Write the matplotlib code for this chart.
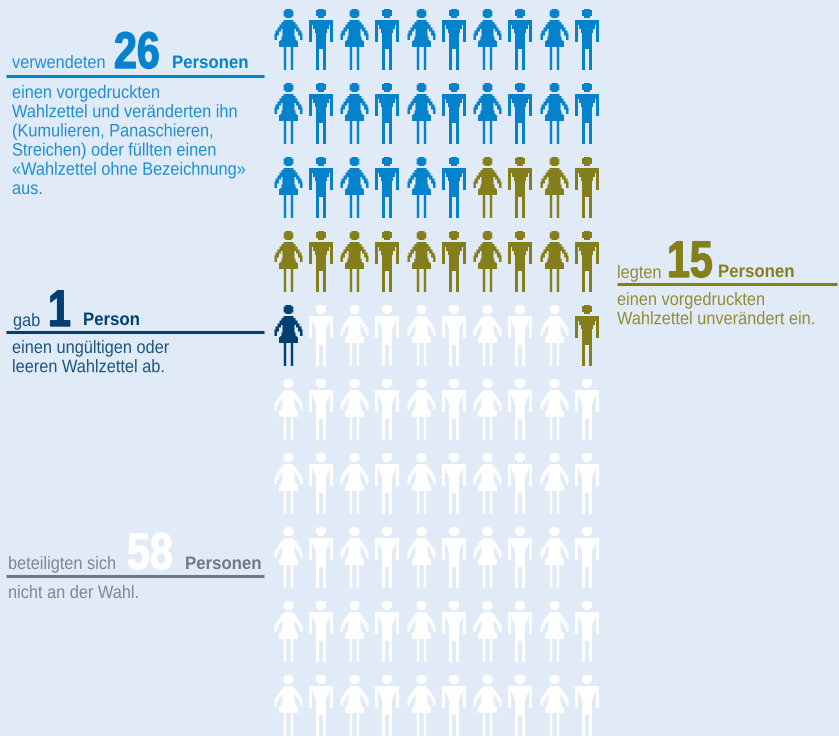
import matplotlib
matplotlib.use("Agg")
import matplotlib.pyplot as plt
from matplotlib.path import Path
from matplotlib.markers import MarkerStyle
from matplotlib.patheffects import AbstractPathEffect
from matplotlib.text import Text
from matplotlib.transforms import Affine2D, Bbox

BG = "#e0ebf7"
BLUE = "#0482cc"
OLIVE = "#857f1b"
NAVY = "#004070"
GREY = "#6f7a86"
WHITE = "#ffffff"

# Grid composition in reading order: (count, colour)
segment_counts = [26, 14, 1, 8, 1, 50]
segment_colors = [BLUE, OLIVE, NAVY, WHITE, OLIVE, WHITE]
n_cols = 10
col_x = [288, 321, 354, 387, 421, 454, 487, 520, 554, 587]
row_y = [38.5, 112.5, 186.5, 260.5, 334.5, 408.5, 482.5, 556.5, 630.5, 704.5]


def mirrored(right_side):
    """Closed outline from its right half (x >= 0), top to bottom; y given downwards."""
    pts = right_side + [(-x, y) for x, y in reversed(right_side)]
    verts = [(x, -y) for x, y in pts] + [(pts[0][0], -pts[0][1])]
    codes = [Path.MOVETO] + [Path.LINETO] * (len(pts) - 1) + [Path.CLOSEPOLY]
    return verts, codes


def combine(*parts):
    v, c = [], []
    for a, b in parts:
        v += a
        c += b
    return Path(v, c)


head = mirrored([(3, -30.5), (3, -29), (4.8, -29), (4.8, -23),
                 (3, -23), (3, -21.5)])
woman_body = mirrored([(5, -19.5), (5, -17.5), (7, -17.5), (7, -15), (9, -15),
                       (9, -12), (11, -12), (11, -9), (13, -9), (13, -6), (14, -6),
                       (14, 0.5), (11.5, 0.5), (11.5, -4), (9.5, -4), (9.5, -8),
                       (7.5, -8), (7.5, -10.5), (6, -10.5), (6, -3), (7, -3),
                       (7, 0), (9.5, 2), (9.5, 7.5), (4.7, 7.5), (4.7, 30.5),
                       (2.3, 30.5), (2.3, 7.5)])
man_body = mirrored([(11.7, -19.5), (11.7, 3), (9, 3), (9, -14.5), (7.7, -14.5),
                     (7.7, -10), (6.3, -10), (6.3, -6), (4.7, -6), (4.7, 30.5),
                     (2.3, 30.5), (2.3, 10)])
woman = combine(head, woman_body)
man = combine(head, man_body)

DPI = 100
fig = plt.figure(figsize=(8.39, 7.36), dpi=DPI, facecolor=BG)
ax = fig.add_axes([0, 0, 1, 1])
ax.set_xlim(0, 839)
ax.set_ylim(736, 0)
ax.axis("off")

colors = [c for n, c in zip(segment_counts, segment_colors) for _ in range(n)]
size_pts = 61 * 72 / DPI
for r, y in enumerate(row_y):
    for c, x in enumerate(col_x):
        shape = woman if c % 2 == 0 else man
        ax.scatter([x], [y], marker=MarkerStyle(shape), s=size_pts ** 2,
                   color=colors[r * n_cols + c], linewidths=0, zorder=2)


class Condense(AbstractPathEffect):
    """Narrows glyphs horizontally and optionally thickens them; no condensed face is installed."""
    def __init__(self, sx, stroke=0.0):
        super().__init__()
        self.sx = sx
        self.stroke = stroke

    def draw_path(self, renderer, gc, tpath, affine, rgbFace=None):
        gc0 = renderer.new_gc()
        gc0.copy_properties(gc)
        gc0.set_linewidth(self.stroke)
        renderer.draw_path(gc0, tpath, Affine2D().scale(self.sx, 1) + affine, rgbFace)
        gc0.restore()


class CondensedText(Text):
    def __init__(self, *args, sx=1.0, stroke=0.0, **kwargs):
        super().__init__(*args, **kwargs)
        self.sx = sx
        self.set_path_effects([Condense(sx, stroke)])

    def get_window_extent(self, renderer=None, dpi=None):
        bb = super().get_window_extent(renderer, dpi)
        return Bbox.from_extents(bb.x0, bb.y0, bb.x0 + bb.width * self.sx, bb.y1)


FONT = ["Liberation Sans", "DejaVu Sans"]


def label(x, y, s, color, size, sx, weight="normal", stroke=0.0, alpha=1.0):
    ax.add_artist(CondensedText(x, y, s, sx=sx, stroke=stroke, color=color, alpha=alpha,
                                fontsize=size, fontweight=weight, family=FONT,
                                va="baseline", ha="left"))


def thin(x, y, s, color):
    label(x, y, s, color, 13, 0.905, alpha=0.88)


def strong(x, y, s, color):
    label(x, y, s, color, 13, 0.93, "bold")


def big(x, y, s, color):
    label(x, y, s, color, 37, 0.8, "bold", stroke=1.0)


def body(x, y, lines, color):
    for i, line in enumerate(lines):
        thin(x, y + i * 19.2, line, color)


def rule(x0, x1, y, color):
    ax.plot([x0, x1], [y, y], color=color, lw=2.2, solid_capstyle="butt")


# Blue block
thin(12, 68, "verwendeten", BLUE)
big(114, 68, "26", BLUE)
strong(172, 68, "Personen", BLUE)
rule(6, 264, 75.5, BLUE)
body(12, 98, ["einen vorgedruckten", "Wahlzettel und veränderten ihn",
              "(Kumulieren, Panaschieren,", "Streichen) oder füllten einen",
              "«Wahlzettel ohne Bezeichnung»", "aus."], BLUE)

# Olive block
thin(617, 278, "legten", OLIVE)
big(667, 277, "15", OLIVE)
strong(718, 277, "Personen", OLIVE)
rule(617, 837, 283.5, OLIVE)
body(617, 305, ["einen vorgedruckten", "Wahlzettel unverändert ein."], OLIVE)

# Navy block
thin(13, 326, "gab", NAVY)
big(48, 326, "1", NAVY)
strong(83, 325, "Person", NAVY)
rule(6, 264, 332, NAVY)
body(12, 353, ["einen ungültigen oder", "leeren Wahlzettel ab."], NAVY)

# Grey block
thin(8, 569, "beteiligten sich", GREY)
big(127, 569, "58", WHITE)
strong(185, 569, "Personen", GREY)
rule(6, 264, 576, GREY)
body(8, 598, ["nicht an der Wahl."], GREY)

fig.savefig("out.png", dpi=DPI, facecolor=BG)
